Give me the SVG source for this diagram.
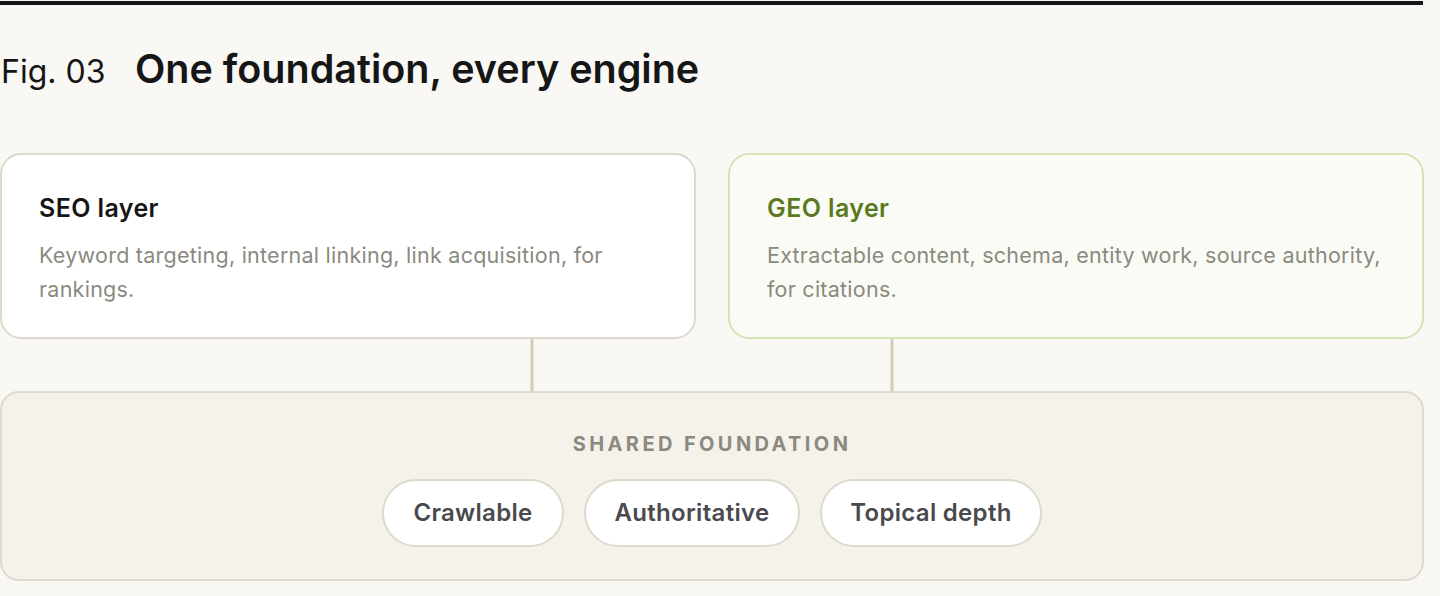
<svg xmlns="http://www.w3.org/2000/svg" width="1440" height="596" viewBox="0 0 1440 596">
<style>
.bg{fill:#f9f8f4}
.title{font-family:Inter,"Noto Sans",sans-serif;font-weight:600;font-size:39.5px;fill:#161616}
.fig{font-family:Inter,"Noto Sans",sans-serif;font-weight:400;font-size:32px;fill:#161616}
.card{stroke-width:2}
.seo{fill:#ffffff;stroke:#dedacb}
.geo{fill:#fbfbf5;stroke:#d4e3b6}
.found{fill:#f4f2eb;stroke:#dedbcf;stroke-width:2}
.h{font-family:Inter,"Noto Sans",sans-serif;font-weight:600;font-size:25px;letter-spacing:0.4px}
.body{font-family:Inter,"Noto Sans",sans-serif;font-weight:400;font-size:21.5px;fill:#8a8a80;letter-spacing:0.25px}
.label{font-family:Inter,"Noto Sans",sans-serif;font-weight:700;font-size:20px;fill:#8a8a7f;letter-spacing:3.4px}
.pill{fill:#ffffff;stroke:#dedacb;stroke-width:2}
.pilltext{font-family:Inter,"Noto Sans",sans-serif;font-weight:600;font-size:24px;fill:#4a4a4e;letter-spacing:0.3px}
.conn{stroke:#d6cdb9;stroke-width:3;fill:none}
</style>
<rect class="bg" x="0" y="0" width="1440" height="596"/>
<rect x="0" y="1" width="1423" height="4" fill="#161616"/>
<g id="heading">
<text class="fig" x="1" y="83">Fig. 03</text>
<text class="title" x="135" y="83">One foundation, every engine</text>
</g>
<g id="connectors">
<line class="conn" x1="532" y1="339" x2="532" y2="391"/>
<line class="conn" x1="892" y1="339" x2="892" y2="391"/>
</g>
<g id="seo-layer">
<rect class="card seo" x="1" y="154" width="694" height="184" rx="20"/>
<text class="h" x="39" y="217" fill="#161616">SEO layer</text>
<text class="body" x="39" y="263">Keyword targeting, internal linking, link acquisition, for</text>
<text class="body" x="39" y="297">rankings.</text>
</g>
<g id="geo-layer">
<rect class="card geo" x="729" y="154" width="694" height="184" rx="20"/>
<text class="h" x="767" y="217" fill="#5b7a1f">GEO layer</text>
<text class="body" x="767" y="263">Extractable content, schema, entity work, source authority,</text>
<text class="body" x="767" y="297">for citations.</text>
</g>
<g id="shared-foundation">
<rect class="found" x="1" y="392" width="1422" height="188" rx="18"/>
<text class="label" x="712" y="451" text-anchor="middle">SHARED FOUNDATION</text>
</g>
<g id="pill-crawlable">
<rect class="pill" x="383" y="480" width="180" height="66" rx="33"/>
<text class="pilltext" x="473" y="521" text-anchor="middle">Crawlable</text>
</g>
<g id="pill-authoritative">
<rect class="pill" x="585" y="480" width="214" height="66" rx="33"/>
<text class="pilltext" x="692" y="521" text-anchor="middle">Authoritative</text>
</g>
<g id="pill-topical">
<rect class="pill" x="821" y="480" width="220" height="66" rx="33"/>
<text class="pilltext" x="931" y="521" text-anchor="middle">Topical depth</text>
</g>
</svg>
